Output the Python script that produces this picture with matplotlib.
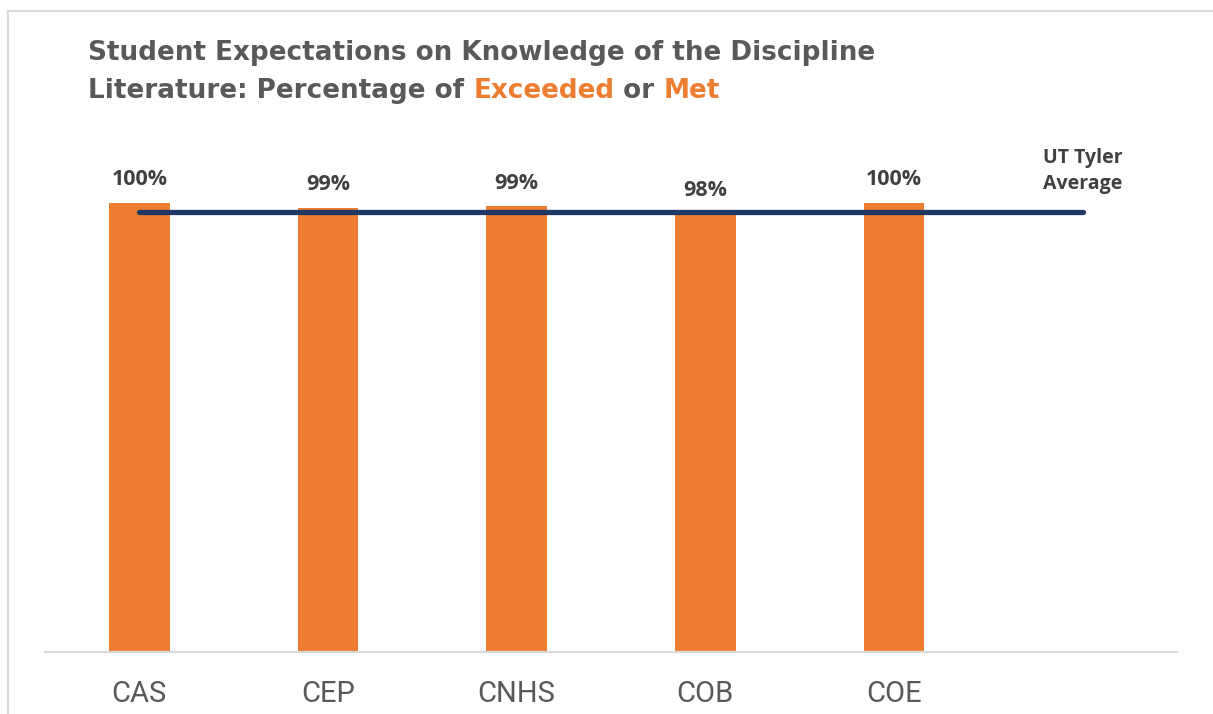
import matplotlib
matplotlib.use("Agg")
import matplotlib.pyplot as plt
from matplotlib.lines import Line2D

categories = ["CAS", "CEP", "CNHS", "COB", "COE", ""]
bar_values = [100, 98.9, 99.3, 97.6, 100]
avg_values = [97.9, 97.9, 97.9, 97.9, 97.9, 97.9]
avg_label = "UT Tyler\nAverage"

orange = "#ED7D31"
navy = "#1F3864"
grey_txt = "#595959"
dark_txt = "#404040"
frame_col = "#D9D9D9"

W, H = 1213, 714
fig = plt.figure(figsize=(W / 100, H / 100), dpi=100)
ax = fig.add_axes([45 / W, (H - 652) / H, (1177 - 45) / W, (652 - 158) / H])

x = list(range(len(categories)))
ax.bar(x[:len(bar_values)], bar_values, width=0.32, color=orange, zorder=2)
ax.plot(x, avg_values, color=navy, linewidth=3.8, solid_capstyle="round", zorder=3)

for xi, v in zip(x, bar_values):
    ax.annotate(f"{v:.0f}%", (xi, v), xytext=(0, 16.5), textcoords="offset points",
                ha="center", va="center", fontsize=15.5, fontweight="bold",
                color=dark_txt, family=["Open Sans", "DejaVu Sans"])

ax.annotate(avg_label, (x[-1], avg_values[-1]), xytext=(0, 30), textcoords="offset points",
            ha="center", va="center", fontsize=14, fontweight="bold", color=dark_txt,
            family=["Open Sans", "DejaVu Sans"], linespacing=1.4)

ax.set_xlim(-0.5, len(categories) - 0.5)
ax.set_ylim(0, 110)
ax.set_xticks(x)
ax.set_xticklabels(categories, fontsize=21, color=grey_txt,
                   family=["Liberation Sans Narrow", "Roboto", "DejaVu Sans"])
ax.tick_params(axis="x", length=0, pad=20)
ax.set_yticks([])
for s in ["top", "right", "left"]:
    ax.spines[s].set_visible(False)
ax.spines["bottom"].set_color(frame_col)
ax.spines["bottom"].set_linewidth(1.6)

# chart frame (clipped on right and bottom)
fig.add_artist(Line2D([8 / W, 1], [1 - 11 / H, 1 - 11 / H], color=frame_col, lw=1.5))
fig.add_artist(Line2D([8 / W, 8 / W], [0, 1 - 11 / H], color=frame_col, lw=1.5))

# title with coloured words
tkw = dict(fontsize=18.9, fontweight="bold", family=["DejaVu Sans"], va="baseline")
fig.text(88 / W, 1 - 60 / H, "Student Expectations on Knowledge of the Discipline",
         color=grey_txt, **tkw)
parts = [("Literature: Percentage of ", grey_txt), ("Exceeded", orange),
         (" or ", grey_txt), ("Met", orange)]
fig.canvas.draw()
r = fig.canvas.get_renderer()
xpos = 88 / W
for txt, col in parts:
    t = fig.text(xpos, 1 - 98 / H, txt, color=col, **tkw)
    bb = t.get_window_extent(renderer=r)
    xpos += bb.width / W

fig.savefig("out.png", dpi=100)
